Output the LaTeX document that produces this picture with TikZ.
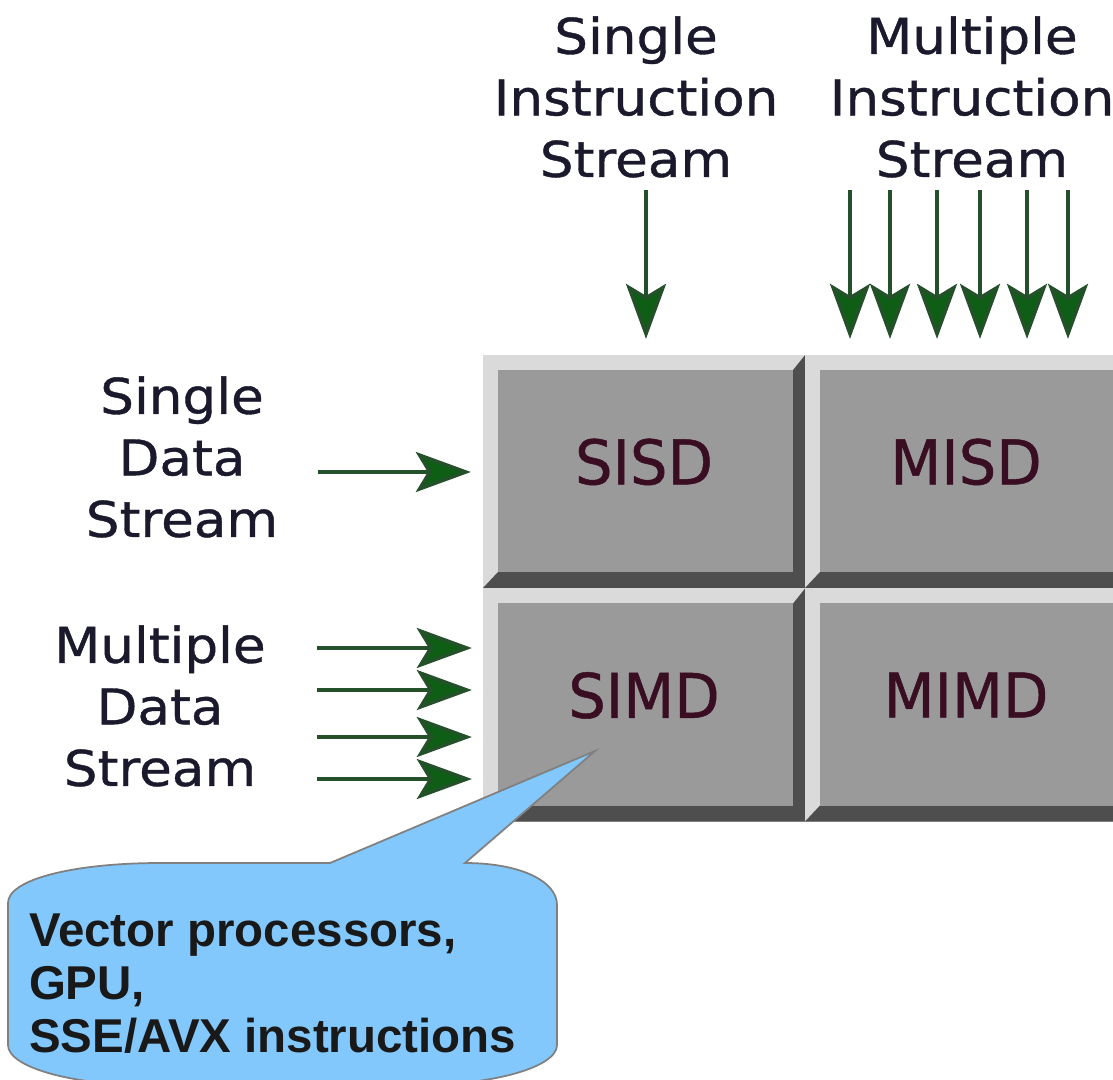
\documentclass[tikz,border=0pt]{standalone}
\usepackage{fontspec}
\usepackage{xcolor}
\usepackage{tikz}
\usetikzlibrary{arrows.meta}

\newfontfamily\pixfont[FakeStretch=1.08,FakeBold=0.8]{DejaVu Sans}
\newfontfamily\cellfont[FakeStretch=0.96,FakeBold=0.8]{DejaVu Sans}
\newfontfamily\callfont{Liberation Sans}

\definecolor{labelink}{HTML}{1A1A2C}
\definecolor{cellink}{HTML}{3A0E22}
\definecolor{facegray}{HTML}{9A9A9A}
\definecolor{bevlight}{HTML}{DADADA}
\definecolor{bevdark}{HTML}{4E4E4E}
\definecolor{shaftgreen}{HTML}{24502A}
\definecolor{headgreen}{HTML}{0E5E16}
\definecolor{bubblue}{HTML}{82C8FC}

\begin{document}
\begin{tikzpicture}[x=0.01cm,y=-0.01cm,semithick]
  \tikzstyle{head}=[font=\pixfont\fontsize{14}{17.5}\selectfont,text=labelink,
                    align=center,inner sep=0pt]
  \tikzstyle{flow}=[-{Stealth[length=0.55cm,width=0.4cm,inset=0.12cm,fill=headgreen]},
                    draw=shaftgreen,line width=1pt]
  \tikzstyle{cell}=[minimum width=3.22cm,minimum height=2.33cm,inner sep=0pt,
                    text depth=0.2cm,text=cellink,
                    font=\cellfont\fontsize{17.5}{20}\selectfont,
                    path picture={
    \coordinate (sw) at (path picture bounding box.south west);
    \coordinate (ne) at (path picture bounding box.north east);
    \coordinate (se) at (path picture bounding box.south east);
    \fill[bevlight] (sw) rectangle (ne);
    \fill[bevdark] (sw) -- (se) -- (ne) -- ([shift={(-0.12cm,-0.15cm)}]ne)
      -- ([shift={(-0.12cm,0.16cm)}]se) -- ([shift={(0.15cm,0.16cm)}]sw) -- cycle;
    \fill[facegray] ([shift={(0.15cm,0.16cm)}]sw) rectangle ([shift={(-0.12cm,-0.15cm)}]ne);
  }]
  \tikzstyle{bubble}=[fill=bubblue,draw=gray,line width=0.5pt]

  \clip (0,0) rectangle (1113,1079);

  \node[cell] (sisd) at (644,471.5) {SISD};
  \node[cell] (misd) at (966,471.5) {MISD};
  \node[cell] (simd) at (644,705)   {SIMD};
  \node[cell] (mimd) at (966,705)   {MIMD};

  \node[head] (si) at (636,97)  {Single\\Instruction\\Stream};
  \node[head] (mi) at (972,97)  {Multiple\\Instruction\\Stream};
  \node[head] (sd) at (182,457) {Single\\Data\\Stream};
  \node[head] (md) at (160,706) {Multiple\\Data\\Stream};

  \coordinate (sitop) at (646,190);
  \draw[flow,shorten >=0.15cm] (sitop) -- (sitop |- sisd.north);
  \foreach \x [count=\i] in {850,890,937,980,1027,1068} {
    \coordinate (mitop\i) at (\x,190);
    \draw[flow,shorten >=0.15cm] (mitop\i) -- (mitop\i |- misd.north);
  }

  \coordinate (sdleft) at (318,472);
  \draw[flow,shorten >=0.11cm] (sdleft) -- (sdleft -| sisd.west);
  \foreach \y [count=\i] in {648,690,737,779} {
    \coordinate (mdleft\i) at (317,\y);
    \draw[flow,shorten >=0.1cm] (mdleft\i) -- (mdleft\i -| simd.west);
  }

  \draw[bubble] (8,903) .. controls (8,879) and (75,863) .. (160,863)
    -- (330,863) -- (595,751) -- (465,863)
    .. controls (520,863) and (557,881) .. (557,905) -- (557,1045)
    .. controls (557,1067) and (494,1085) .. (417,1085) -- (148,1085)
    .. controls (71,1085) and (8,1067) .. (8,1045) -- cycle;
  \node[anchor=north west,inner sep=0pt,align=left,text=black!90,
        font=\callfont\bfseries\fontsize{13.5}{15.1}\selectfont]
    (note) at (28,913) {Vector processors,\\GPU,\\SSE/AVX instructions};
\end{tikzpicture}
\end{document}
